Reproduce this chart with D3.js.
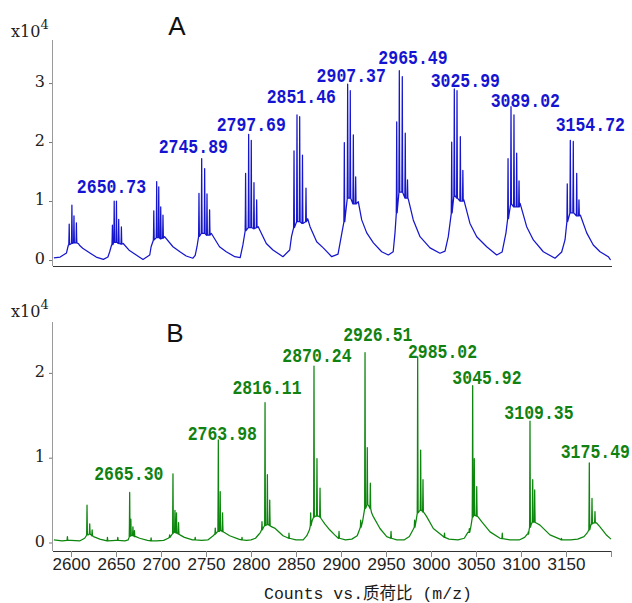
<!DOCTYPE html>
<html lang="zh">
<head>
<meta charset="UTF-8">
<title>Mass spectrum A / B</title>
<style>
  body { margin: 0; background: #fff; overflow: hidden; }
  svg { display: block; }
</style>
</head>
<body>
<svg id="chart" width="632" height="603"></svg>
<script src="https://cdn.jsdelivr.net/npm/d3@7/dist/d3.min.js"></script>
<script>
// m/z range and tick values
const mzDomain = [2580, 3200];
const mzTicks = [2600, 2650, 2700, 2750, 2800, 2850, 2900, 2950, 3000, 3050, 3100, 3150];
const yTicksA = [0, 10000, 20000, 30000];
const yTicksB = [0, 10000, 20000];

// spectrum A: broad humps [m/z, counts]
const envA = [
  [2581, 350], [2588, 500], [2595, 1200], [2597, 2500],
  [2608, 2800], [2610, 2400], [2613, 2000], [2621, 1200], [2628, 500], [2636, 100], [2641, 500],
  [2643, 1400], [2645, 2500],
  [2658, 2800], [2665, 1600], [2672.5, 850], [2680, 100], [2687.5, 850],
  [2689, 2250],
  [2704, 3950], [2713.3, 2250], [2721, 1400], [2728, 680], [2735.5, 300], [2738, 800], [2740, 2250],
  [2756, 4500], [2765, 2250], [2772.5, 1400], [2782, 560], [2788, 420],
  [2791, 2550],
  [2808, 5650], [2817, 2800], [2824.4, 1700], [2835.5, 560], [2843, 1700],
  [2845, 3950],
  [2863, 7000], [2865.6, 5650], [2873, 3100], [2880.3, 2050], [2889.7, 560], [2896.7, 1000],
  [2901, 4600],
  [2919.2, 9900], [2923, 6800], [2928.6, 4600], [2936, 2900], [2945.2, 1400], [2952.6, 850], [2958, 1400],
  [2960, 4600],
  [2975, 10200], [2980.3, 6800], [2987.8, 3950], [2998.9, 2050], [3010, 1150], [3015.6, 1500],
  [3019.2, 3950],
  [3036.5, 10200], [3043.3, 6200], [3050.8, 3950], [3061.9, 2250], [3073, 850], [3079, 1350],
  [3083.3, 4600],
  [3099, 9600], [3106.3, 5650], [3113.7, 3400], [3124.8, 1400], [3137.8, 300], [3145.2, 1350],
  [3148.9, 3400],
  [3166, 7600], [3173, 4600], [3180.3, 2550], [3187.8, 1400], [3197, 560], [3199.5, 0]
];

// spectrum A: isotope spikes [m/z, top, base]
const spikesA = [
  [2598, 6100, 2600], [2601, 9300, 2800], [2603.3, 7500, 2900], [2606, 6300, 2900],
  [2646, 5900, 2600], [2648, 10000, 3000], [2650.5, 10000, 3000], [2653, 6900, 2800], [2656, 5600, 2700],
  [2692, 8350, 3400], [2695.2, 13300, 3800], [2697.5, 12400, 3800], [2699.7, 9000, 3600], [2702.2, 7600, 3700],
  [2742.2, 11300, 4000], [2745.2, 17200, 4500], [2748.5, 15500, 4500], [2751.1, 11200, 4200], [2754, 8500, 4200],
  [2794, 14700, 5000], [2797.4, 21300, 5500], [2800.3, 20300, 5500], [2803.3, 13100, 5300], [2806.3, 10200, 5500],
  [2847.8, 18500, 5500], [2851.1, 24600, 6500], [2854.1, 24300, 6500], [2857.2, 17800, 6200], [2861.1, 12200, 6500],
  [2903.7, 19900, 6500], [2907.4, 29800, 10500], [2910.3, 28700, 10500], [2913.7, 21200, 9500], [2916.3, 14100, 9500],
  [2961.9, 23400, 8000], [2964.8, 32100, 11500], [2968.1, 31100, 11500], [2971.4, 21500, 10500], [2973.9, 13600, 10500],
  [3023, 20000, 8000], [3025.9, 29000, 11000], [3028.9, 28700, 10500], [3032.6, 20900, 10000], [3035.4, 15200, 10000],
  [3085.6, 17200, 7000], [3088.9, 26000, 9500], [3092.2, 24600, 9000], [3095.2, 18100, 9000], [3097.8, 13400, 9000],
  [3151.4, 12900, 6500], [3154.8, 20300, 8000], [3158.1, 20100, 8000], [3161.9, 14700, 7500], [3164.4, 10200, 7500]
];

// peak labels A [text, m/z of label centre, counts at baseline]
const labelsA = [
  ["2650.73", 2645, 11360], ["2745.89", 2735.9, 18190], ["2797.69", 2800.3, 21870],
  ["2851.46", 2855.9, 26660], ["2907.37", 2911.4, 30220], ["2965.49", 2980, 33220],
  ["3025.99", 3038.1, 29270], ["3089.02", 3104.8, 25980], ["3154.72", 3177, 21920]
];

// spectrum B: baseline and humps
const envB = [
  [2581, 300], [2590, 200], [2600, 250], [2610, 200], [2615.2, 500], [2617, 800],
  [2619.3, 900], [2622.2, 900], [2625, 700], [2632, 400], [2640, 200], [2650, 250], [2660, 200],
  [2663.5, 300], [2664.5, 600], [2667.5, 800], [2669.7, 800], [2672, 700], [2676.3, 500], [2685, 250], [2695, 200], [2703, 250], [2708, 500],
  [2710.5, 700], [2712.5, 1000], [2714.4, 1200], [2716.3, 1200], [2718.3, 1100], [2721, 900], [2726, 600], [2735, 300], [2745, 250], [2752, 300], [2758, 800],
  [2762, 1200], [2764.8, 1300], [2767, 1400], [2770, 1200], [2776.3, 800], [2786.3, 400], [2795, 250], [2800, 300], [2805, 500], [2809, 1000],
  [2810.5, 1200], [2814, 1800], [2816.8, 2050], [2819.5, 2100], [2822, 1900], [2826.3, 1700], [2835.6, 800], [2842, 500], [2850, 300], [2858, 300], [2862, 800], [2865, 1500],
  [2868, 2600], [2871.5, 3100], [2875, 3100], [2878, 2800], [2882, 2200], [2887.4, 1500], [2893, 900], [2897, 500], [2905, 300], [2912, 400], [2918, 800], [2920.5, 1500],
  [2924, 2500], [2928, 4200], [2931, 4300], [2934, 3500], [2935.9, 3050], [2943.3, 1650], [2950.8, 700], [2962, 300], [2970, 300], [2976, 700], [2980, 1500],
  [2983.5, 2600], [2987, 3700], [2989.8, 3800], [2993, 3400], [2995.2, 3050], [3002.6, 1650], [3013.7, 700], [3020, 400], [3030, 300], [3037, 500], [3041, 1200],
  [3044.5, 2000], [3047.2, 3100], [3049.5, 3200], [3052.5, 3000], [3056.3, 2450], [3065.6, 1250], [3076.7, 500], [3088, 300], [3098, 300], [3104, 600], [3107, 1000],
  [3109, 1500], [3111.5, 2200], [3114.1, 2400], [3117, 2300], [3121.1, 2050], [3132.2, 900], [3143.3, 400], [3155, 300], [3163, 400], [3170, 700], [3174, 1200],
  [3177.4, 2000], [3180.5, 2300], [3184, 2300], [3187.8, 1850], [3195.2, 850], [3200, 400]
];

// spectrum B spikes [m/z, top, base]
const spikesB = [
  [2596, 700, 250], [2640.5, 600, 200], [2652, 600, 250],
  [2617.8, 4400, 900], [2620.8, 2200, 1000], [2623.5, 1500, 800],
  [2665.2, 5900, 700], [2666.5, 2750, 800], [2668.8, 1850, 800], [2670.5, 1400, 700],
  [2689, 550, 200], [2709.6, 900, 600],
  [2713.3, 8100, 1100], [2715.5, 3800, 1200], [2717.2, 3500, 1100], [2719.5, 2350, 1000],
  [2738, 600, 300], [2760.3, 1700, 1000],
  [2763.7, 12100, 1300], [2765.8, 6000, 1400], [2768.4, 3500, 1300],
  [2790, 600, 300], [2812.2, 2450, 1500],
  [2815.6, 16500, 2000], [2818.2, 8000, 2100], [2820.8, 5000, 2000],
  [2842.2, 1100, 500], [2866.3, 3500, 2000],
  [2870, 20800, 3000], [2873.3, 9900, 3100], [2876.7, 6400, 3000],
  [2897.8, 1300, 500], [2921.9, 2650, 1800],
  [2926.7, 22400, 4000], [2929.2, 11200, 4500], [2932.6, 7000, 4000],
  [2955.6, 1300, 500], [2981.8, 2650, 1800],
  [2985.2, 21900, 3500], [2988.5, 10900, 3800], [2991.1, 7400, 3600],
  [3015, 1100, 600], [3042.6, 1650, 1200],
  [3046.3, 18500, 3000], [3048.1, 9900, 3200], [3050.8, 6600, 3100],
  [3079.2, 1100, 450], [3108.1, 1250, 1000],
  [3110, 14300, 1800], [3113, 7400, 2400], [3115.2, 6200, 2400],
  [3145, 500, 300],
  [3175.9, 9400, 1500], [3178.9, 5200, 2200], [3182.2, 3650, 2300]
];

const labelsB = [
  ["2665.30", 2664.2, 7370], ["2763.98", 2768.1, 12090], ["2816.11", 2817.8, 17510],
  ["2870.24", 2873.3, 21320], ["2926.51", 2940.9, 23790], ["2985.02", 3012.8, 21720],
  ["3045.92", 3062.2, 18690], ["3109.35", 3120, 14530], ["3175.49", 3182.6, 9930]
];

const svg = d3.select("#chart");
const x = d3.scaleLinear().domain(mzDomain).range([53, 611]);

function buildSeries(env, spikes) {
  const pts = env.slice();
  spikes.forEach(s => {
    pts.push([s[0] - 0.4, s[2]], [s[0], s[1]], [s[0] + 0.4, s[2]]);
  });
  pts.sort((a, b) => a[0] - b[0]);
  return pts;
}

function drawPanel(p) {
  const y = d3.scaleLinear().domain([0, p.yMax]).range([p.zeroY, p.top]);
  const g = svg.append("g");

  // y axis
  g.append("line")
    .attr("x1", 52.5).attr("x2", 52.5)
    .attr("y1", p.top).attr("y2", p.axisY)
    .attr("stroke", "#9a9a9a").attr("stroke-width", 1);

  const yAxis = g.append("g")
    .attr("transform", "translate(52,0)")
    .call(d3.axisLeft(y).tickValues(p.yTicks).tickFormat(d => d / 10000).tickSize(3).tickPadding(4));
  yAxis.select(".domain").remove();
  yAxis.selectAll(".tick line").attr("stroke", "#777");
  yAxis.selectAll(".tick text")
    .attr("font-family", "DejaVu Serif")
    .attr("font-size", 16)
    .attr("fill", "#222")
    .attr("dy", "0.22em");

  // x10^4
  const mult = g.append("text")
    .attr("x", 11).attr("y", p.multY)
    .attr("font-family", "DejaVu Serif")
    .attr("font-size", 16)
    .attr("fill", "#222")
    .text("x10");
  mult.append("tspan").attr("dy", -8).attr("font-size", 13).text("4");

  // light body of the isotope spikes
  g.selectAll(".body")
    .data(p.spikes.filter(s => s[1] > 2 * s[2]))
    .enter()
    .append("path")
    .attr("class", "body")
    .attr("d", s => d3.line()([
      [x(s[0] - 1.3), y(s[2])], [x(s[0]), y(s[1] * 0.55 + s[2] * 0.45)], [x(s[0] + 1.3), y(s[2])]
    ]))
    .attr("fill", p.fill)
    .attr("fill-opacity", 0.55)
    .attr("stroke", "none");

  // spectrum
  const series = buildSeries(p.env, p.spikes);
  const line = d3.line().x(d => x(d[0])).y(d => y(d[1]));
  g.append("path")
    .datum(series)
    .attr("d", line)
    .attr("fill", "none")
    .attr("stroke", p.color)
    .attr("stroke-width", 1.25)
    .attr("stroke-linejoin", "round");

  // x axis line
  g.append("line")
    .attr("x1", 53).attr("x2", 612)
    .attr("y1", p.axisY + 0.5).attr("y2", p.axisY + 0.5)
    .attr("stroke", "#333").attr("stroke-width", 1.2);

  // peak labels
  g.selectAll(".peak")
    .data(p.labels)
    .enter()
    .append("text")
    .attr("class", "peak")
    .attr("transform", d => "translate(" + x(d[1]) + "," + y(d[2]) + ") scale(1,1.2)")
    .attr("text-anchor", "middle")
    .attr("font-family", "Liberation Mono")
    .attr("font-weight", "bold")
    .attr("font-size", 16.5)
    .attr("fill", p.labelColor)
    .text(d => d[0]);

  // panel letter
  g.append("text")
    .attr("x", p.titleX).attr("y", p.titleY)
    .attr("text-anchor", "middle")
    .attr("font-family", "Liberation Sans")
    .attr("font-size", 26)
    .attr("fill", "#111")
    .text(p.title);

  return g;
}

drawPanel({
  env: envA, spikes: spikesA, labels: labelsA, yTicks: yTicksA,
  yMax: 37300, zeroY: 260, top: 40, axisY: 266, multY: 37,
  color: "#1616cc", fill: "#7a7ae6", labelColor: "#1414d2",
  title: "A", titleX: 177, titleY: 35
});

const gB = drawPanel({
  env: envB, spikes: spikesB, labels: labelsB, yTicks: yTicksB,
  yMax: 26000, zeroY: 542.5, top: 322, axisY: 551, multY: 317,
  color: "#0d860d", fill: "#72bf72", labelColor: "#118211",
  title: "B", titleX: 175, titleY: 342
});

// bottom m/z axis
const xAxis = gB.append("g")
  .attr("transform", "translate(0,551)")
  .call(d3.axisBottom(x).tickValues(mzTicks.concat([3200])).tickFormat(d => d === 3200 ? "" : d).tickSize(6).tickPadding(1));
xAxis.select(".domain").remove();
xAxis.selectAll(".tick line").attr("stroke", "#8a8a8a");
xAxis.selectAll(".tick text")
  .attr("font-family", "Liberation Sans")
  .attr("font-size", 17)
  .attr("fill", "#222");

svg.append("text")
  .attr("x", 368).attr("y", 599)
  .attr("text-anchor", "middle")
  .attr("font-family", "Liberation Mono, Noto Sans CJK SC")
  .attr("font-size", 16.5)
  .attr("fill", "#1a1a1a")
  .text("Counts vs.质荷比 (m/z)");
</script>
</body>
</html>
